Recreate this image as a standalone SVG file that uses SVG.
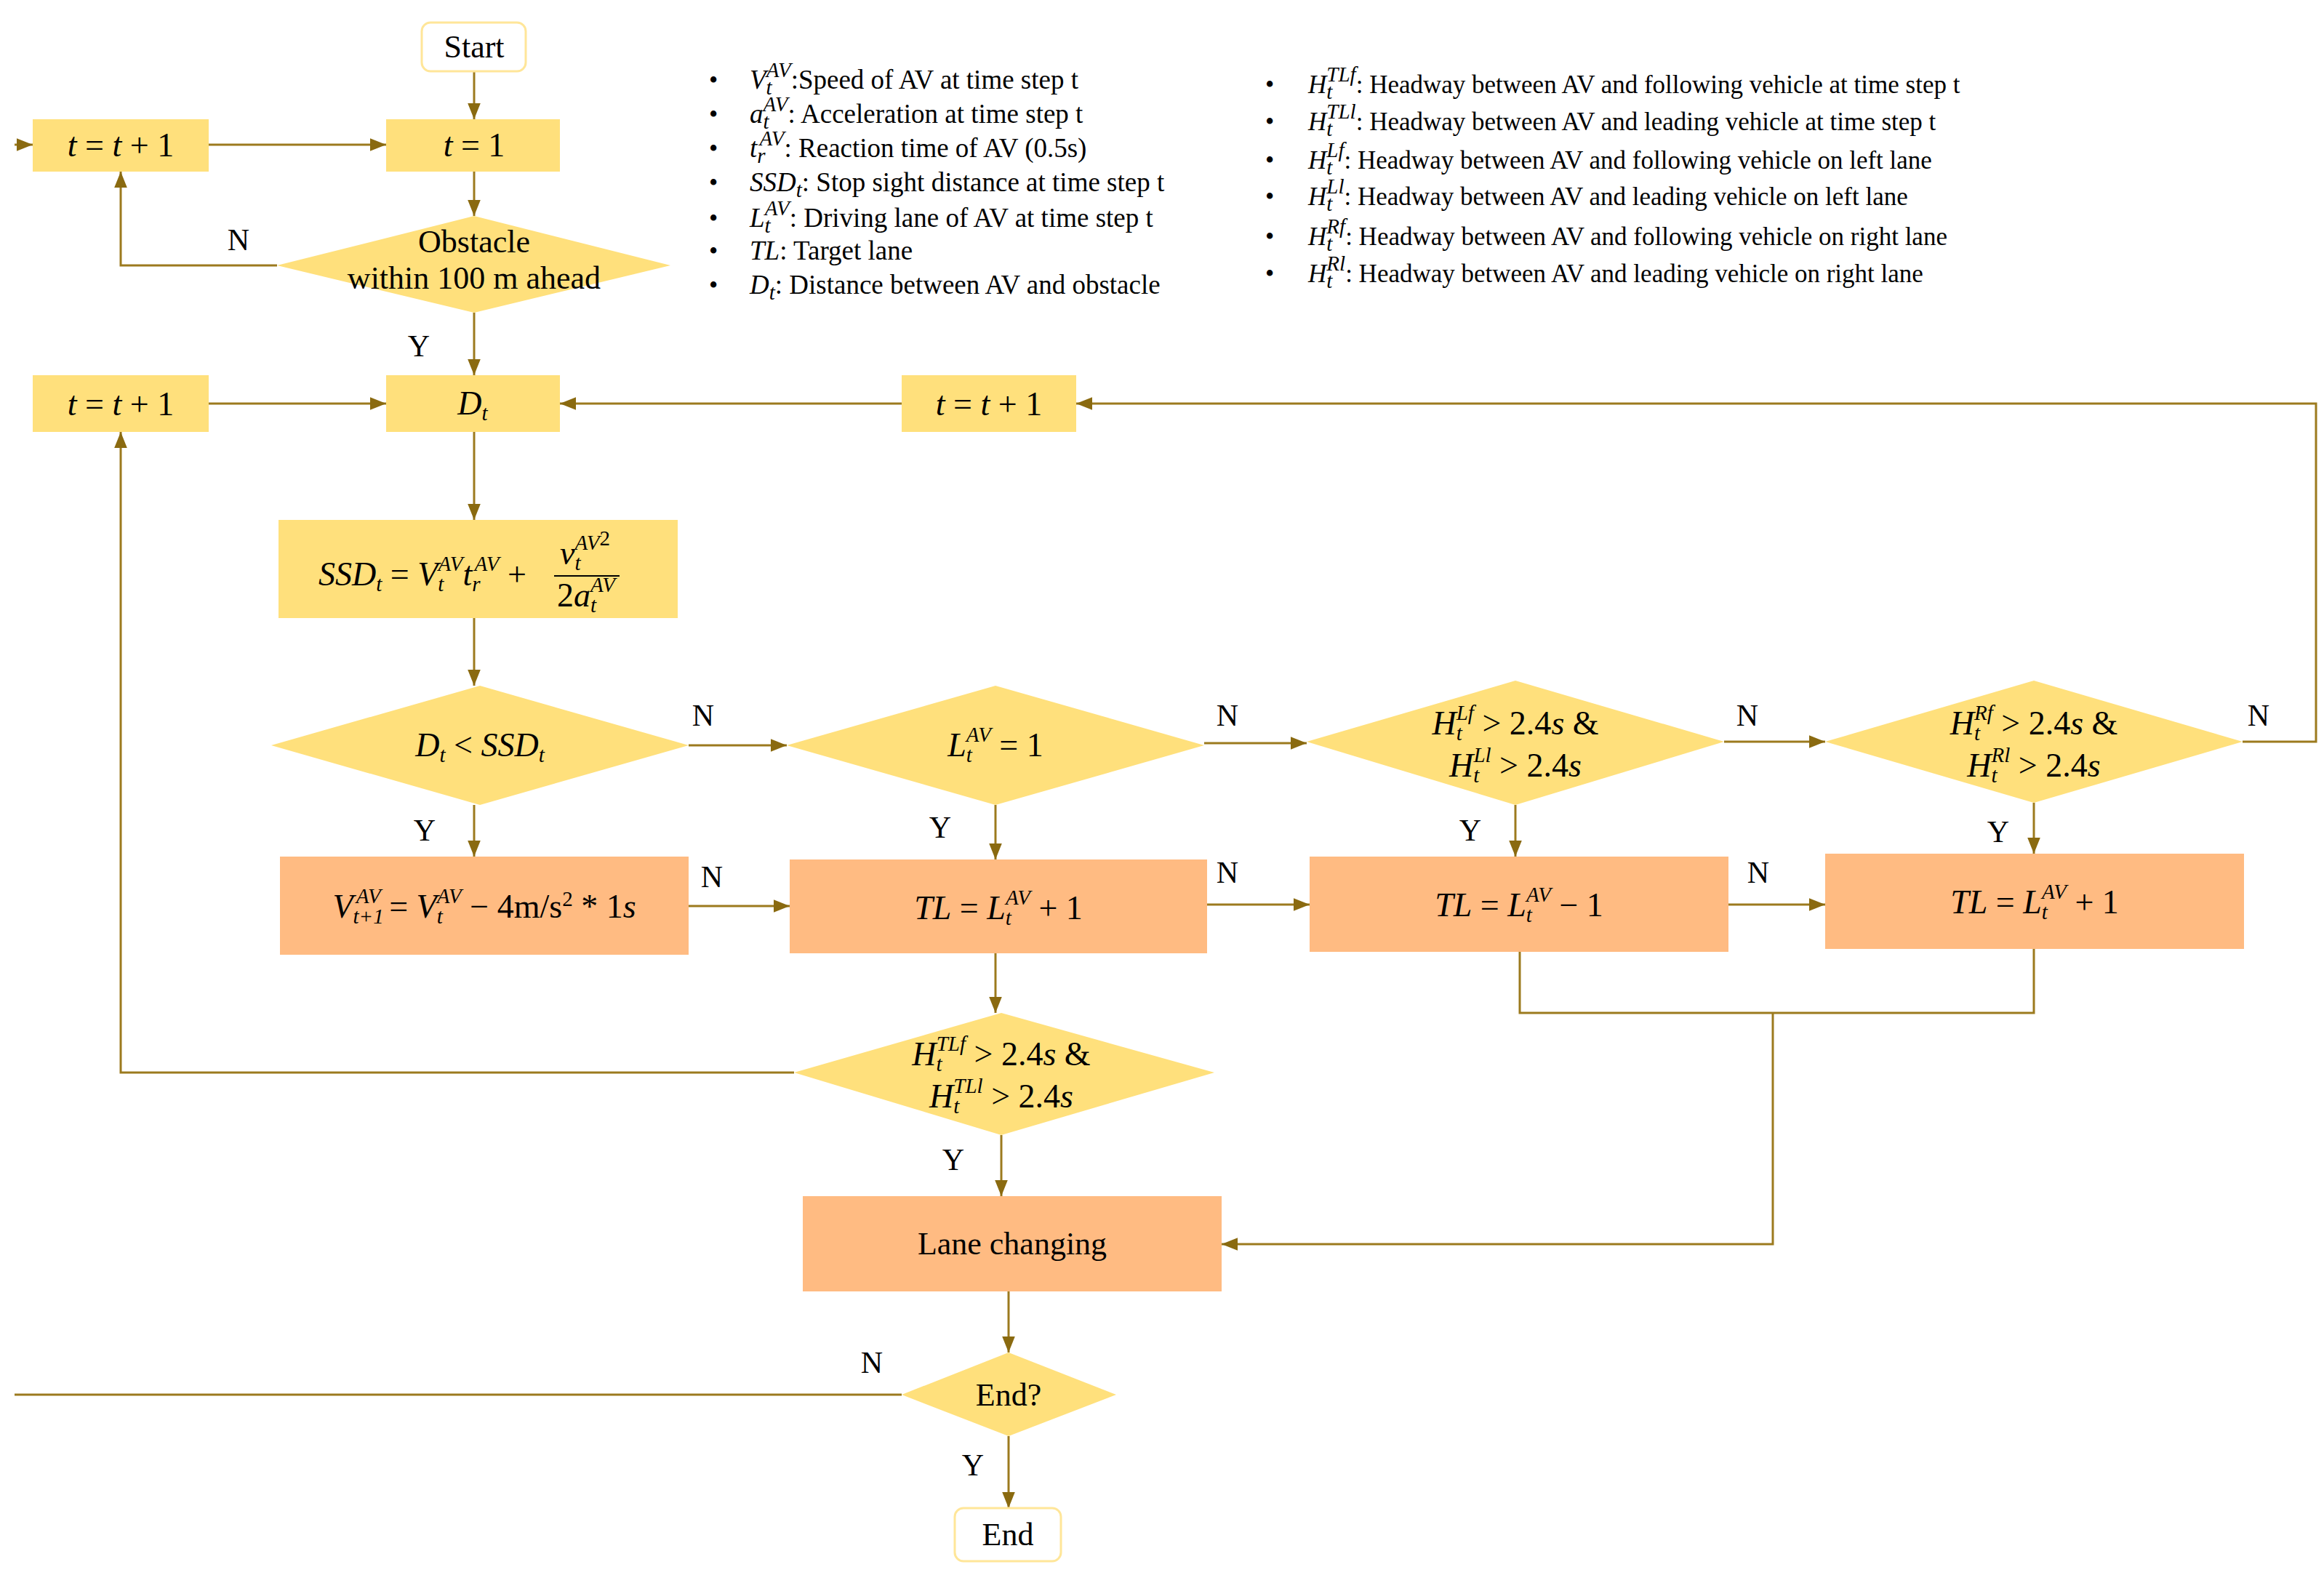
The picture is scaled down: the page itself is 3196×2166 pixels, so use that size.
<svg xmlns="http://www.w3.org/2000/svg" width="3196" height="2166" viewBox="0 0 3196 2166">
<defs>
<marker id="a" viewBox="0 0 10 10" refX="10" refY="5" markerWidth="22" markerHeight="22" orient="auto" markerUnits="userSpaceOnUse">
<path d="M0,1 L10,5 L0,9 z" fill="#8A6a10"/>
</marker>
</defs>
<style>
.y{fill:#FFE07C}
.o{fill:#FFBB82}
.c{fill:none;stroke:#9C7A1E;stroke-width:3}
.t{font-family:"Liberation Serif",serif;font-size:44px;fill:#000;text-anchor:middle}
.m{font-family:"Liberation Serif",serif;font-style:italic;font-size:46px;fill:#000;text-anchor:middle}
.st{text-anchor:start}
.l{font-family:"Liberation Serif",serif;font-size:35px;fill:#000}
.s{font-size:29px}
.lb{font-family:"Liberation Serif",serif;font-size:42px;fill:#000;text-anchor:middle}
</style>
<rect width="3196" height="2166" fill="#fff"/>

<g id="connectors">
<path class="c" d="M652,98 V164" marker-end="url(#a)"/>
<path class="c" d="M287,199 H531" marker-end="url(#a)"/>
<path class="c" d="M20,199 H45" marker-end="url(#a)"/>
<path class="c" d="M652,236 V297" marker-end="url(#a)"/>
<path class="c" d="M381,365 H166 V236" marker-end="url(#a)"/>
<path class="c" d="M652,430 V516" marker-end="url(#a)"/>
<path class="c" d="M287,555 H531" marker-end="url(#a)"/>
<path class="c" d="M1240,555 H770" marker-end="url(#a)"/>
<path class="c" d="M3084,1020 H3185 V555 H1480" marker-end="url(#a)"/>
<path class="c" d="M652,594 V715" marker-end="url(#a)"/>
<path class="c" d="M652,850 V943" marker-end="url(#a)"/>
<path class="c" d="M947,1025 H1082" marker-end="url(#a)"/>
<path class="c" d="M1656,1022 H1797" marker-end="url(#a)"/>
<path class="c" d="M2371,1020 H2510" marker-end="url(#a)"/>
<path class="c" d="M652,1107 V1178" marker-end="url(#a)"/>
<path class="c" d="M1369,1107 V1182" marker-end="url(#a)"/>
<path class="c" d="M2084,1107 V1178" marker-end="url(#a)"/>
<path class="c" d="M2797,1104 V1174" marker-end="url(#a)"/>
<path class="c" d="M947,1246 H1086" marker-end="url(#a)"/>
<path class="c" d="M1660,1244 H1801" marker-end="url(#a)"/>
<path class="c" d="M2377,1244 H2510" marker-end="url(#a)"/>
<path class="c" d="M1369,1311 V1393" marker-end="url(#a)"/>
<path class="c" d="M1092,1475 H166 V594" marker-end="url(#a)"/>
<path class="c" d="M1377,1561 V1645" marker-end="url(#a)"/>
<path class="c" d="M2090,1309 V1393 H2797 V1305"/>
<path class="c" d="M2438,1393 V1711 H1680" marker-end="url(#a)"/>
<path class="c" d="M1387,1776 V1860" marker-end="url(#a)"/>
<path class="c" d="M1240,1918 H20"/>
<path class="c" d="M1387,1975 V2074" marker-end="url(#a)"/>
</g>

<g id="labels">
<text class="lb" x="328" y="344">N</text>
<text class="lb" x="576" y="490">Y</text>
<text class="lb" x="967" y="998">N</text>
<text class="lb" x="1688" y="998">N</text>
<text class="lb" x="2403" y="998">N</text>
<text class="lb" x="3106" y="998">N</text>
<text class="lb" x="584" y="1156">Y</text>
<text class="lb" x="1293" y="1152">Y</text>
<text class="lb" x="2022" y="1156">Y</text>
<text class="lb" x="2748" y="1158">Y</text>
<text class="lb" x="979" y="1220">N</text>
<text class="lb" x="1688" y="1214">N</text>
<text class="lb" x="2418" y="1214">N</text>
<text class="lb" x="1311" y="1609">Y</text>
<text class="lb" x="1199" y="1888">N</text>
<text class="lb" x="1338" y="2029">Y</text>
</g>

<g id="start"><rect x="580" y="31" width="143" height="67" rx="12" fill="#fff" stroke="#FFE699" stroke-width="3"/><text class="t" x="652" y="79">Start</text></g>
<g id="inc1"><rect class="y" x="45" y="164" width="242" height="72"/><text class="m" x="166" y="215">t <tspan font-style="normal">= </tspan>t <tspan font-style="normal">+ 1</tspan></text></g>
<g id="t1"><rect class="y" x="531" y="164" width="239" height="72"/><text class="m" x="652" y="215">t <tspan font-style="normal">= 1</tspan></text></g>
<g id="obstacle"><polygon class="y" points="381,365 652,297 922,365 652,430"/><text class="t" x="652" y="347">Obstacle</text><text class="t" x="652" y="397">within 100 m ahead</text></g>
<g id="dt"><rect class="y" x="531" y="516" width="239" height="78"/><text class="m" x="650" y="570">D<tspan class="s" dy="8">t</tspan></text></g>
<g id="inc2"><rect class="y" x="45" y="516" width="242" height="78"/><text class="m" x="166" y="571">t <tspan font-style="normal">= </tspan>t <tspan font-style="normal">+ 1</tspan></text></g>
<g id="inc3"><rect class="y" x="1240" y="516" width="240" height="78"/><text class="m" x="1360" y="571">t <tspan font-style="normal">= </tspan>t <tspan font-style="normal">+ 1</tspan></text></g>
<g id="ssd"><rect class="y" x="383" y="715" width="549" height="135"/>
<text class="m st" x="438" y="805">SSD<tspan class="s" dy="8">t</tspan><tspan dy="-8" font-style="normal"> = </tspan>V<tspan class="s" dy="8">t</tspan><tspan class="s" dx="-8" dy="-28">AV</tspan><tspan dy="20">t</tspan><tspan class="s" dy="8">r</tspan><tspan class="s" dx="-8" dy="-28">AV</tspan><tspan dy="20" font-style="normal"> +</tspan></text>
<line x1="762" y1="792" x2="852" y2="792" stroke="#000" stroke-width="2"/>
<text class="m st" x="770" y="776">v<tspan class="s" dy="8">t</tspan><tspan class="s" dx="-8" dy="-28">AV</tspan><tspan class="s" dy="-6" font-style="normal">2</tspan></text>
<text class="m st" x="766" y="834"><tspan font-style="normal">2</tspan>a<tspan class="s" dy="8">t</tspan><tspan class="s" dx="-8" dy="-28">AV</tspan></text>
</g>
<g id="d-ssd"><polygon class="y" points="373,1025 660,943 947,1025 660,1107"/><text class="m" x="660" y="1040">D<tspan class="s" dy="8">t</tspan><tspan dy="-8" font-style="normal"> &lt; </tspan>SSD<tspan class="s" dy="8">t</tspan></text></g>
<g id="lane1"><polygon class="y" points="1082,1025 1369,943 1656,1025 1369,1107"/><text class="m" x="1369" y="1040">L<tspan class="s" dy="8">t</tspan><tspan class="s" dx="-8" dy="-28">AV</tspan><tspan dy="20" font-style="normal"> = 1</tspan></text></g>
<g id="left"><polygon class="y" points="1797,1020 2084,936 2371,1020 2084,1107"/>
<text class="m" x="2084" y="1010">H<tspan class="s" dy="8">t</tspan><tspan class="s" dx="-8" dy="-28">Lf</tspan><tspan dy="20" font-style="normal"> &gt; 2.4</tspan>s<tspan font-style="normal"> &amp;</tspan></text>
<text class="m" x="2084" y="1068">H<tspan class="s" dy="8">t</tspan><tspan class="s" dx="-8" dy="-28">Ll</tspan><tspan dy="20" font-style="normal"> &gt; 2.4</tspan>s</text></g>
<g id="right"><polygon class="y" points="2510,1020 2797,936 3084,1020 2797,1104"/>
<text class="m" x="2797" y="1010">H<tspan class="s" dy="8">t</tspan><tspan class="s" dx="-8" dy="-28">Rf</tspan><tspan dy="20" font-style="normal"> &gt; 2.4</tspan>s<tspan font-style="normal"> &amp;</tspan></text>
<text class="m" x="2797" y="1068">H<tspan class="s" dy="8">t</tspan><tspan class="s" dx="-8" dy="-28">Rl</tspan><tspan dy="20" font-style="normal"> &gt; 2.4</tspan>s</text></g>
<g id="decel"><rect class="o" x="385" y="1178" width="562" height="135"/><text class="m" x="666" y="1262">V<tspan class="s" dy="8">t+1</tspan><tspan class="s" dx="-38" dy="-28">AV</tspan><tspan dy="20" font-style="normal"> = </tspan>V<tspan class="s" dy="8">t</tspan><tspan class="s" dx="-8" dy="-28">AV</tspan><tspan dy="20" font-style="normal"> − 4m/s</tspan><tspan class="s" dy="-16" font-style="normal">2</tspan><tspan dy="16" font-style="normal"> * 1</tspan>s</text></g>
<g id="tlp1"><rect class="o" x="1086" y="1182" width="574" height="129"/><text class="m" x="1373" y="1264">TL<tspan font-style="normal"> = </tspan>L<tspan class="s" dy="8">t</tspan><tspan class="s" dx="-8" dy="-28">AV</tspan><tspan dy="20" font-style="normal"> + 1</tspan></text></g>
<g id="tlm1"><rect class="o" x="1801" y="1178" width="576" height="131"/><text class="m" x="2089" y="1260">TL<tspan font-style="normal"> = </tspan>L<tspan class="s" dy="8">t</tspan><tspan class="s" dx="-8" dy="-28">AV</tspan><tspan dy="20" font-style="normal"> − 1</tspan></text></g>
<g id="tlp1r"><rect class="o" x="2510" y="1174" width="576" height="131"/><text class="m" x="2798" y="1256">TL<tspan font-style="normal"> = </tspan>L<tspan class="s" dy="8">t</tspan><tspan class="s" dx="-8" dy="-28">AV</tspan><tspan dy="20" font-style="normal"> + 1</tspan></text></g>
<g id="target"><polygon class="y" points="1092,1475 1377,1393 1670,1475 1377,1561"/>
<text class="m" x="1377" y="1465">H<tspan class="s" dy="8">t</tspan><tspan class="s" dx="-8" dy="-28">TLf</tspan><tspan dy="20" font-style="normal"> &gt; 2.4</tspan>s<tspan font-style="normal"> &amp;</tspan></text>
<text class="m" x="1377" y="1523">H<tspan class="s" dy="8">t</tspan><tspan class="s" dx="-8" dy="-28">TLl</tspan><tspan dy="20" font-style="normal"> &gt; 2.4</tspan>s</text></g>
<g id="lanechange"><rect class="o" x="1104" y="1645" width="576" height="131"/><text class="t" x="1392" y="1725">Lane changing</text></g>
<g id="end-q"><polygon class="y" points="1240,1918 1387,1860 1535,1918 1387,1975"/><text class="t" x="1387" y="1933">End?</text></g>
<g id="end"><rect x="1313" y="2074" width="146" height="73" rx="12" fill="#fff" stroke="#FFE699" stroke-width="3"/><text class="t" x="1386" y="2125">End</text></g>

<g id="legend" class="l">
<text x="975" y="122">•</text><text x="975" y="169">•</text><text x="975" y="216">•</text><text x="975" y="263">•</text><text x="975" y="312">•</text><text x="975" y="357">•</text><text x="975" y="404">•</text>
<text x="1740" y="128">•</text><text x="1740" y="179">•</text><text x="1740" y="232">•</text><text x="1740" y="282">•</text><text x="1740" y="337">•</text><text x="1740" y="388">•</text>
<g font-size="37">
<text x="1031" y="122"><tspan font-style="italic">V<tspan class="s" dy="8">t</tspan><tspan class="s" dx="-8" dy="-24">AV</tspan></tspan><tspan dy="16">:Speed of AV at time step t</tspan></text>
<text x="1031" y="169"><tspan font-style="italic">a<tspan class="s" dy="8">t</tspan><tspan class="s" dx="-8" dy="-24">AV</tspan></tspan><tspan dy="16">: Acceleration at time step t</tspan></text>
<text x="1031" y="216"><tspan font-style="italic">t<tspan class="s" dy="8">r</tspan><tspan class="s" dx="-8" dy="-24">AV</tspan></tspan><tspan dy="16">: Reaction time of AV (0.5s)</tspan></text>
<text x="1031" y="263"><tspan font-style="italic">SSD<tspan class="s" dy="8">t</tspan></tspan><tspan dy="-8">: Stop sight distance at time step t</tspan></text>
<text x="1031" y="312"><tspan font-style="italic">L<tspan class="s" dy="8">t</tspan><tspan class="s" dx="-8" dy="-24">AV</tspan></tspan><tspan dy="16">: Driving lane of AV at time step t</tspan></text>
<text x="1031" y="357"><tspan font-style="italic">TL</tspan>: Target lane</text>
<text x="1031" y="404"><tspan font-style="italic">D<tspan class="s" dy="8">t</tspan></tspan><tspan dy="-8">: Distance between AV and obstacle</tspan></text>
</g>
<text x="1799" y="128"><tspan font-style="italic">H<tspan class="s" dy="8">t</tspan><tspan class="s" dx="-8" dy="-24">TLf</tspan></tspan><tspan dy="16">: Headway between AV and following vehicle at time step t</tspan></text>
<text x="1799" y="179"><tspan font-style="italic">H<tspan class="s" dy="8">t</tspan><tspan class="s" dx="-8" dy="-24">TLl</tspan></tspan><tspan dy="16">: Headway between AV and leading vehicle at time step t</tspan></text>
<text x="1799" y="232"><tspan font-style="italic">H<tspan class="s" dy="8">t</tspan><tspan class="s" dx="-8" dy="-24">Lf</tspan></tspan><tspan dy="16">: Headway between AV and following vehicle on left lane</tspan></text>
<text x="1799" y="282"><tspan font-style="italic">H<tspan class="s" dy="8">t</tspan><tspan class="s" dx="-8" dy="-24">Ll</tspan></tspan><tspan dy="16">: Headway between AV and leading vehicle on left lane</tspan></text>
<text x="1799" y="337"><tspan font-style="italic">H<tspan class="s" dy="8">t</tspan><tspan class="s" dx="-8" dy="-24">Rf</tspan></tspan><tspan dy="16">: Headway between AV and following vehicle on right lane</tspan></text>
<text x="1799" y="388"><tspan font-style="italic">H<tspan class="s" dy="8">t</tspan><tspan class="s" dx="-8" dy="-24">Rl</tspan></tspan><tspan dy="16">: Headway between AV and leading vehicle on right lane</tspan></text>
</g>
</svg>
